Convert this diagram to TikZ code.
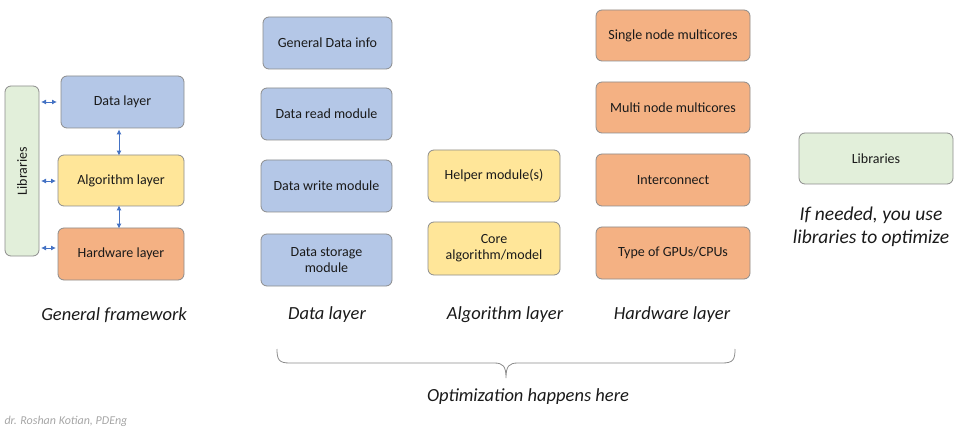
\documentclass[tikz,border=0pt]{standalone}
\usepackage{fontspec}
\setmainfont{Carlito}
\usetikzlibrary{arrows.meta}
\definecolor{bluef}{HTML}{B4C7E7}
\definecolor{yelf}{HTML}{FFE699}
\definecolor{oraf}{HTML}{F4B183}
\definecolor{grnf}{HTML}{E2EFDA}
\definecolor{bord}{HTML}{8C8C8C}
\definecolor{arr}{HTML}{4472C4}
\definecolor{txt}{HTML}{1A1A1A}
\tikzset{
  box/.style={draw=bord, line width=0.8pt, rounded corners=6pt, inner sep=2pt, align=center, font=\fontsize{14}{16}\selectfont, text=txt},
  bbox/.style={box, fill=bluef},
  ybox/.style={box, fill=yelf},
  obox/.style={box, fill=oraf},
  gbox/.style={box, fill=grnf},
  dbl/.style={arr, line width=0.9pt, {Latex[length=5pt,width=5pt]}-{Latex[length=5pt,width=5pt]}},
  lab/.style={font=\fontsize{18.5}{22}\selectfont\itshape, text=txt},
}
\begin{document}
\begin{tikzpicture}[x=1pt,y=-1pt]
\useasboundingbox (0,0) rectangle (960,430);
% left framework
\node[gbox, minimum width=34pt, minimum height=170pt] (libl) at (22,171) {};
\node[rotate=90, font=\fontsize{14}{16}\selectfont, text=txt] (libt) at (22,171) {Libraries};
\node[bbox, minimum width=123pt, minimum height=52pt] (dl) at (122.5,102) {Data layer};
\node[ybox, minimum width=126pt, minimum height=51pt] (al) at (121,180.5) {Algorithm layer};
\node[obox, minimum width=126pt, minimum height=52pt] (hl) at (121,254) {Hardware layer};
\coordinate (l1) at (41,102); \coordinate (r1) at (57,102);
\coordinate (l2) at (41,181); \coordinate (r2) at (56,181);
\coordinate (l3) at (41,248); \coordinate (r3) at (56,248);
\draw[dbl] (l1) -- (r1);
\draw[dbl] (l2) -- (r2);
\draw[dbl] (l3) -- (r3);
\draw[dbl] (dl.south -| 119,0) ++(0,1) -- ([yshift=-1pt]al.north -| 119,0);
\draw[dbl] ([yshift=1pt]al.south -| 119,0) -- ([yshift=-1pt]hl.north -| 119,0);
% data layer column
\node[bbox, minimum width=129pt, minimum height=52pt] (d1) at (327.5,43) {General Data info};
\node[bbox, minimum width=131pt, minimum height=52pt] (d2) at (326.5,114) {Data read module};
\node[bbox, minimum width=131pt, minimum height=52pt] (d3) at (326.5,186) {Data write module};
\node[bbox, minimum width=131pt, minimum height=52pt] (d4) at (326.5,260) {Data storage\\module};
% algorithm column
\node[ybox, minimum width=132pt, minimum height=52pt] (a1) at (494,176) {Helper module(s)};
\node[ybox, minimum width=132pt, minimum height=53pt] (a2) at (494,248.5) {Core\\algorithm/model};
% hardware column
\node[obox, minimum width=154pt, minimum height=51pt] (h1) at (673,35.5) {Single node multicores};
\node[obox, minimum width=154pt, minimum height=51pt] (h2) at (673,107.5) {Multi node multicores};
\node[obox, minimum width=154pt, minimum height=52pt] (h3) at (673,180) {Interconnect};
\node[obox, minimum width=154pt, minimum height=52pt] (h4) at (673,253) {Type of GPUs/CPUs};
% right libraries
\node[gbox, minimum width=154pt, minimum height=51pt] (lr) at (876,158.5) {Libraries};
\node[lab, align=center, font=\fontsize{19.5}{23}\selectfont\itshape] (note) at (871,227) {If needed, you use\\libraries to optimize};
% labels
\node[lab] (t1) at (114,315) {General framework};
\node[lab] (t2) at (327,315) {Data layer};
\node[lab] (t3) at (505,315) {Algorithm layer};
\node[lab] (t4) at (672,315) {Hardware layer};
% brace
\coordinate (bl) at (277,349);
\coordinate (br) at (735,349);
\coordinate (bt) at (506,378);
\draw[bord, line width=0.8pt] (bl) .. controls (277,360) and (279,363) .. (290,363) -- (494,363)
  .. controls (503,363) and (506,366) .. (bt)
  .. controls (506,366) and (509,363) .. (518,363) -- (722,363)
  .. controls (733,363) and (735,360) .. (br);
\node[lab] (opt) at (528,397) {Optimization happens here};
\node[anchor=west, font=\fontsize{12}{14}\selectfont\itshape, text=gray!70] (foot) at (1,421) {dr. Roshan Kotian, PDEng};
\end{tikzpicture}
\end{document}
